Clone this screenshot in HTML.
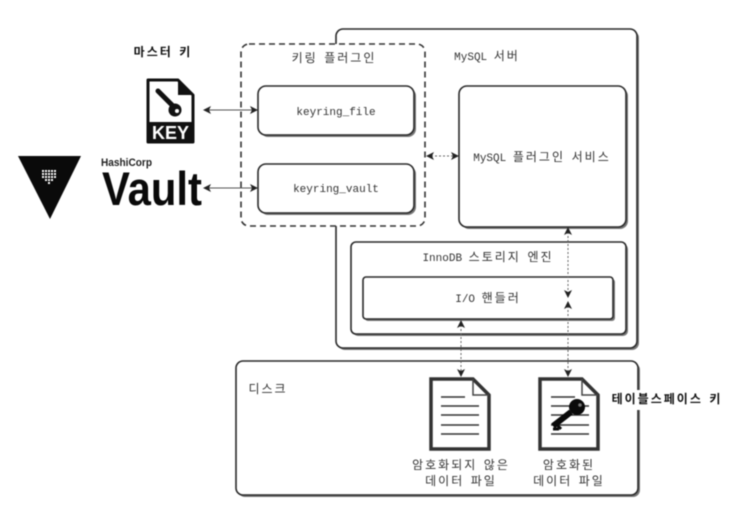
<!DOCTYPE html>
<html><head><meta charset="utf-8"><style>
html,body{margin:0;padding:0;background:#fff;width:739px;height:515px;overflow:hidden}
svg{display:block;filter:blur(.55px)}
.m,.k,.b{font-family:"Liberation Mono","Noto Sans CJK KR",monospace;text-anchor:middle}
.m{font-size:11px;fill:#333}
.m tspan{font-size:12px;letter-spacing:2px}
.k{font-size:12px;letter-spacing:2px;word-spacing:-2.7px;fill:#333}
.b{font-size:12px;font-weight:700;letter-spacing:2px;word-spacing:-2.7px;fill:#111}
.box{fill:#fff;stroke:#2a2a2a;stroke-width:1.6}
.sh{fill:#777}
.lnk{stroke:#555;stroke-width:1;fill:none}
.dot{stroke:#666;stroke-width:1;stroke-dasharray:2 2;fill:none}
</style></head><body>
<svg width="739" height="515" viewBox="0 0 739 515" xmlns="http://www.w3.org/2000/svg">
<defs>
<marker id="a" viewBox="0 0 8 8" refX="7" refY="4" markerWidth="8" markerHeight="8" orient="auto-start-reverse" markerUnits="userSpaceOnUse"><path d="M0 0L8 4L0 8L2 4Z" fill="#222"/></marker>
</defs>

<!-- MySQL server -->
<rect class="sh" x="338" y="31" width="301" height="319" rx="7"/>
<rect class="box" x="336" y="29" width="301" height="319" rx="7"/>
<text class="m" x="487" y="60">MySQL <tspan>서버</tspan></text>

<!-- Keyring plugin -->
<rect x="241" y="44" width="184" height="182" rx="8" fill="#fff" stroke="#333" stroke-width="1.6" stroke-dasharray="6 4"/>
<text class="k" x="334" y="62">키링 플러그인</text>

<rect class="sh" x="260" y="88" width="156" height="49" rx="8"/>
<rect class="box" x="258" y="86" width="156" height="49" rx="8"/>
<text class="m" x="336" y="115">keyring_file</text>
<rect class="sh" x="260" y="166" width="156" height="49" rx="8"/>
<rect class="box" x="258" y="164" width="156" height="49" rx="8"/>
<text class="m" x="336" y="192">keyring_vault</text>

<!-- Plugin service -->
<rect class="sh" x="461" y="88" width="167" height="141" rx="8"/>
<rect class="box" x="459" y="86" width="167" height="141" rx="8"/>
<text class="m" x="542" y="161">MySQL <tspan>플러그인</tspan> <tspan>서비스</tspan></text>

<!-- InnoDB -->
<rect class="sh" x="353" y="244" width="275" height="92" rx="5"/>
<rect class="box" x="351" y="242" width="275" height="92" rx="5"/>
<text class="m" x="488" y="261">InnoDB <tspan>스토리지</tspan> <tspan>엔진</tspan></text>
<rect class="sh" x="365" y="279" width="250" height="42" rx="3"/>
<rect class="box" x="363" y="277" width="250" height="42" rx="3"/>
<text class="m" x="488" y="302">I/O <tspan>핸들러</tspan></text>

<!-- Disk -->
<rect class="sh" x="238" y="363" width="402" height="134" rx="7"/>
<rect class="box" x="236" y="361" width="402" height="134" rx="7"/>
<text class="k" x="268" y="393">디스크</text>

<!-- Connectors -->
<line class="lnk" x1="204" y1="110" x2="257" y2="110" marker-start="url(#a)" marker-end="url(#a)"/>
<line class="lnk" x1="204" y1="188" x2="257" y2="188" marker-start="url(#a)" marker-end="url(#a)"/>
<line class="dot" x1="427" y1="156" x2="458" y2="156" marker-start="url(#a)" marker-end="url(#a)"/>
<line class="dot" x1="568" y1="228" x2="568" y2="297" marker-start="url(#a)" marker-end="url(#a)"/>
<line class="dot" x1="568" y1="302" x2="568" y2="376" marker-start="url(#a)" marker-end="url(#a)"/>
<line class="dot" x1="461" y1="321" x2="461" y2="376" marker-start="url(#a)" marker-end="url(#a)"/>

<!-- Master key -->
<text class="b" x="163" y="56">마스터 키</text>
<path d="M148 80H178L193 95V142H148Z" fill="#fff" stroke="#111" stroke-width="3" stroke-linejoin="round"/>
<path d="M178 80V95H193Z" fill="#111"/>
<rect x="148" y="122" width="45" height="20" fill="#111"/>
<text x="170.500" y="139" font-family="Liberation Sans,sans-serif" font-weight="700" font-size="18" fill="#fff" text-anchor="middle">KEY</text>
<path d="M158 91L172 105" stroke="#111" stroke-width="5" stroke-linecap="round"/>
<circle cx="175" cy="110" r="6.500" fill="#111"/><circle cx="177" cy="111" r="2" fill="#fff"/>

<!-- Vault -->
<path d="M18 156H81L50 219Z" fill="#0a0a0a"/>
<g fill="#fff">
<rect x="42" y="170" width="2" height="2"/><rect x="45" y="170" width="2" height="2"/><rect x="48" y="170" width="2" height="2"/><rect x="51" y="170" width="2" height="2"/><rect x="54" y="170" width="2" height="2"/>
<rect x="42" y="173" width="2" height="2"/><rect x="45" y="173" width="2" height="2"/><rect x="48" y="173" width="2" height="2"/><rect x="51" y="173" width="2" height="2"/><rect x="54" y="173" width="2" height="2"/>
<rect x="42" y="176" width="2" height="2"/><rect x="45" y="176" width="2" height="2"/><rect x="48" y="176" width="2" height="2"/><rect x="51" y="176" width="2" height="2"/><rect x="54" y="176" width="2" height="2"/>
<rect x="45" y="179" width="2" height="2"/><rect x="48" y="179" width="2" height="2"/><rect x="51" y="179" width="2" height="2"/>
<rect x="48" y="182" width="2" height="2"/>
</g>
<text x="101" y="166" font-family="Liberation Sans,sans-serif" font-weight="700" font-size="11" fill="#222" textLength="51" lengthAdjust="spacingAndGlyphs">HashiCorp</text>
<text x="102" y="205" font-family="Liberation Sans,sans-serif" font-weight="700" font-size="47" fill="#0a0a0a" textLength="100" lengthAdjust="spacingAndGlyphs">Vault</text>

<!-- Document 1 -->
<path d="M431 379H473L489 395V449H431Z" fill="#fff" stroke="#333" stroke-width="3.500"/>
<path d="M473 379V395H489" fill="none" stroke="#444" stroke-width="1.500"/>
<g stroke="#333" stroke-width="1.500"><line x1="441" y1="397" x2="465" y2="397"/><line x1="441" y1="406" x2="479" y2="406"/><line x1="441" y1="415" x2="479" y2="415"/><line x1="441" y1="425" x2="479" y2="425"/><line x1="441" y1="434" x2="479" y2="434"/></g>
<text class="k" x="461" y="469">암호화되지 않은</text>
<text class="k" x="461" y="485">데이터 파일</text>

<!-- Document 2 -->
<path d="M540 379H582L598 395V449H540Z" fill="#fff" stroke="#333" stroke-width="3.500"/>
<path d="M582 379V395H598" fill="none" stroke="#444" stroke-width="1.500"/>
<g stroke="#333" stroke-width="1.500"><line x1="551" y1="397" x2="575" y2="397"/><line x1="551" y1="406" x2="589" y2="406"/><line x1="551" y1="415" x2="589" y2="415"/><line x1="551" y1="425" x2="589" y2="425"/><line x1="551" y1="434" x2="589" y2="434"/></g>
<path d="M553 426L571 412" stroke="#0a0a0a" stroke-width="6"/>
<path d="M553 429L559 429M557 425L561 429" stroke="#0a0a0a" stroke-width="3"/>
<circle cx="577" cy="407" r="8" fill="#0a0a0a"/><circle cx="580" cy="405" r="1.800" fill="#777"/>
<text class="k" x="569" y="469">암호화된</text>
<text class="k" x="569" y="485">데이터 파일</text>

<!-- Tablespace key -->
<rect x="612" y="390" width="110" height="20" fill="#fff"/>
<text class="b" x="667" y="403">테이블스페이스 키</text>
</svg>
</body></html>
